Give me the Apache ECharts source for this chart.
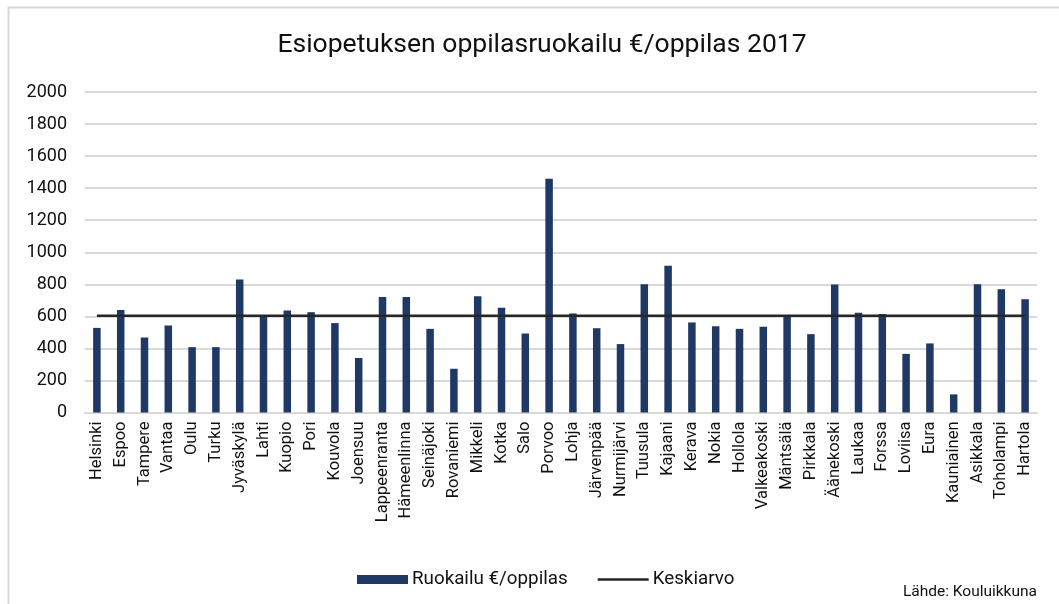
<!DOCTYPE html>
<html><head><meta charset="utf-8">
<script src="https://cdn.jsdelivr.net/npm/echarts@6/dist/echarts.min.js"></script>
<style>html,body{margin:0;padding:0;background:#fff}#c{width:1059px;height:604px}</style>
</head><body><div id="c"></div>
<script>
const categories = ['Helsinki','Espoo','Tampere','Vantaa','Oulu','Turku','Jyväskylä','Lahti','Kuopio','Pori','Kouvola','Joensuu','Lappeenranta','Hämeenlinna','Seinäjoki','Rovaniemi','Mikkeli','Kotka','Salo','Porvoo','Lohja','Järvenpää','Nurmijärvi','Tuusula','Kajaani','Kerava','Nokia','Hollola','Valkeakoski','Mäntsälä','Pirkkala','Äänekoski','Laukaa','Forssa','Loviisa','Eura','Kauniainen','Asikkala','Toholampi','Hartola'];
const ruokailu = [528,639,468,543,408,408,830,607,637,626,558,340,720,720,522,273,726,653,493,1459,618,526,427,801,915,562,539,522,535,597,489,799,622,614,366,431,113,801,769,707];
const keskiarvo = [603,603,603,603,603,603,603,603,603,603,603,603,603,603,603,603,603,603,603,603,603,603,603,603,603,603,603,603,603,603,603,603,603,603,603,603,603,603,603,603];
const yTicks = [0,200,400,600,800,1000,1200,1400,1600,1800,2000];

const chart = echarts.init(document.getElementById('c'), null, {renderer:'canvas'});
const font = 'Roboto, "Liberation Sans", sans-serif';
chart.setOption({
  animation:false,
  textStyle:{fontFamily:font},
  title:{text:'Esiopetuksen oppilasruokailu €/oppilas 2017', left:537, top:27, textAlign:'center',
    textStyle:{fontSize:26.5, fontWeight:'normal', color:'#111', fontFamily:font}},
  grid:{left:85, right:22, top:92, height:320.5, containLabel:false},
  legend:{top:565, left:352, itemGap:30, itemWidth:51, itemHeight:9,
    textStyle:{fontSize:18.8, color:'#111', fontFamily:font, padding:[0,0,0,-1]},
    data:[{name:'Ruokailu €/oppilas', icon:'rect', itemStyle:{color:'#203864'}},
          {name:'Keskiarvo', icon:'path://M0,0 H52 V2.5 H0 Z', itemStyle:{color:'#262626'}}]},
  xAxis:{type:'category', data:categories,
    axisLine:{lineStyle:{color:'#d9d9d9', width:2}},
    axisTick:{show:false},
    axisLabel:{rotate:90, fontSize:16.5, color:'#111', margin:9, interval:0, fontFamily:font}},
  yAxis:{type:'value', min:0, max:2000, interval:200,
    axisLine:{show:false}, axisTick:{show:false},
    splitLine:{lineStyle:{color:'#d9d9d9', width:2}},
    axisLabel:{fontSize:18, color:'#111', margin:18, fontFamily:font,
      formatter:v => yTicks.includes(v) ? String(v) : ''}},
  series:[
    {name:'Ruokailu €/oppilas', type:'bar', data:ruokailu, barWidth:7.5,
     itemStyle:{color:'#203864'}},
    {name:'Keskiarvo', type:'line', data:keskiarvo, symbol:'none',
     lineStyle:{color:'#262626', width:2.5}, itemStyle:{color:'#262626'}, z:3}
  ],
  graphic:[
    {type:'rect', shape:{x:8.5, y:7.5, width:1100, height:700}, style:{fill:null, stroke:'#d9d9d9', lineWidth:2}, silent:true},
    {type:'text', right:22, bottom:4, style:{text:'Lähde: Kouluikkuna', fontSize:15.5, fill:'#111', fontFamily:font}}
  ]
});
</script></body></html>
